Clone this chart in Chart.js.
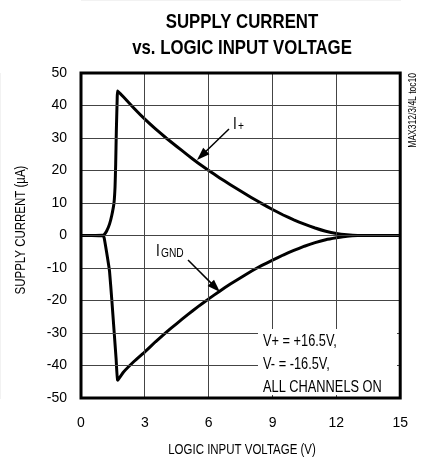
<!DOCTYPE html>
<html>
<head>
<meta charset="utf-8">
<script src="https://cdn.jsdelivr.net/npm/chart.js@4.4.1/dist/chart.umd.min.js"></script>
<style>
  body { margin: 0; background: #fff; }
  #wrap { width: 425px; height: 466px; }
</style>
</head>
<body>
<div id="wrap"><canvas id="myChart" width="425" height="466"></canvas></div>
<script>
const FONT = "'Liberation Sans', Arial, sans-serif";

// I+ curve (uA) vs logic input voltage (V)
const plusVolts = [0, 0.5, 1.0, 1.08, 1.2, 1.34, 1.45, 1.55, 1.6, 1.63, 1.66, 1.7, 1.72,
  2.0, 2.5, 3, 3.5, 4, 4.5, 5, 5.5, 6, 6.5, 7, 7.5, 8, 8.5, 9, 9.5, 10, 10.5, 11, 11.5, 12, 12.5, 13, 14, 15];
const plusCurrent = [0, 0, 0.05, 0.2, 1.3, 3.5, 6.3, 10, 15, 22, 32, 42, 44.5,
  42.6, 39.1, 35.8, 32.8, 30.0, 27.4, 24.8, 22.3, 20.0, 17.8, 15.7, 13.7, 11.7, 9.8, 8.0, 6.3, 4.8, 3.5, 2.3, 1.3, 0.6, 0.2, 0, 0, 0];

// IGND curve
const gndVolts = [0, 0.5, 1.0, 1.08, 1.2, 1.34, 1.45, 1.55, 1.65, 1.72,
  2.0, 2.5, 3, 3.5, 4, 4.5, 5, 5.5, 6, 6.5, 7, 7.5, 8, 8.5, 9, 9.5, 10, 10.5, 11, 11.5, 12, 12.5, 13, 14, 15];
const gndCurrent = [0, 0, -0.1, -0.5, -5, -11, -20, -29, -38, -44.5,
  -42.0, -38.7, -35.8, -32.7, -29.8, -27.1, -24.4, -21.9, -19.5, -17.2, -15.0, -13.0, -11.0, -9.2, -7.6, -6.0, -4.6, -3.3, -2.2, -1.3, -0.7, -0.2, 0, 0, 0];

const xTicks = [0, 3, 6, 9, 12, 15];
const yTicks = [-50, -40, -30, -20, -10, 0, 10, 20, 30, 40, 50];
const titleLines = ['SUPPLY CURRENT', 'vs. LOGIC INPUT VOLTAGE'];
const noteLines = ['V+ = +16.5V,', 'V- = -16.5V,', 'ALL CHANNELS ON'];

const toPoints = (xs, ys) => xs.map((x, i) => ({ x: x, y: ys[i] }));

// condensed look via fillText's maxWidth
function narrowText(ctx, text, x, y, squeeze, align) {
  ctx.textAlign = align || 'left';
  const w = ctx.measureText(text).width * squeeze;
  ctx.fillText(text, x, y, w);
}

function arrow(ctx, x1, y1, x2, y2) {
  const a = Math.atan2(y2 - y1, x2 - x1);
  const len = 13, half = 4.5;
  ctx.beginPath();
  ctx.moveTo(x1, y1);
  ctx.lineTo(x2 - Math.cos(a) * len * 0.8, y2 - Math.sin(a) * len * 0.8);
  ctx.lineWidth = 1.5;
  ctx.stroke();
  ctx.beginPath();
  ctx.moveTo(x2, y2);
  ctx.lineTo(x2 - Math.cos(a) * len - Math.sin(a) * half, y2 - Math.sin(a) * len + Math.cos(a) * half);
  ctx.lineTo(x2 - Math.cos(a) * len + Math.sin(a) * half, y2 - Math.sin(a) * len - Math.cos(a) * half);
  ctx.closePath();
  ctx.fill();
}

// grid is drawn above the curves (z: 1), so the note box and frame go on last
const decor = {
  id: 'decor',
  afterDraw(chart) {
    const ctx = chart.ctx;
    const a = chart.chartArea;
    ctx.save();
    ctx.fillStyle = '#fff';
    ctx.fillRect(258, 329, 139, 66);
    ctx.fillStyle = '#000';
    ctx.textBaseline = 'alphabetic';
    ctx.font = '16px ' + FONT;
    noteLines.forEach((t, i) => narrowText(ctx, t, 263, 346 + i * 23, 0.8));

    ctx.strokeStyle = '#000';
    ctx.lineWidth = 3;
    ctx.strokeRect(a.left, a.top, a.right - a.left, a.bottom - a.top);

    ctx.font = 'bold 21px ' + FONT;
    narrowText(ctx, titleLines[0], 242, 28, 0.8, 'center');
    narrowText(ctx, titleLines[1], 242, 54, 0.8, 'center');

    ctx.font = '14px ' + FONT;
    narrowText(ctx, 'LOGIC INPUT VOLTAGE (V)', 242, 454, 0.82, 'center');

    ctx.save();
    ctx.translate(25, 230);
    ctx.rotate(-Math.PI / 2);
    narrowText(ctx, 'SUPPLY CURRENT (\u00b5A)', 0, 0, 0.82, 'center');
    ctx.restore();

    ctx.save();
    ctx.translate(416, 73);
    ctx.rotate(-Math.PI / 2);
    ctx.font = '10px ' + FONT;
    narrowText(ctx, 'MAX312/3/4L toc10', 0, 0, 0.85, 'right');
    ctx.restore();

    // curve labels
    ctx.font = '16px ' + FONT;
    narrowText(ctx, 'I', 233, 129, 0.85);
    ctx.font = '12px ' + FONT;
    narrowText(ctx, '+', 238, 130, 0.85);
    ctx.font = '16px ' + FONT;
    narrowText(ctx, 'I', 156, 256, 0.85);
    ctx.font = '12px ' + FONT;
    narrowText(ctx, 'GND', 161, 257, 0.85);

    arrow(ctx, 229, 129, 197, 160);
    arrow(ctx, 188, 260, 220, 292);
    ctx.restore();
  }
};

const ctx = document.getElementById('myChart').getContext('2d');
new Chart(ctx, {
  type: 'line',
  data: {
    datasets: [
      {
        label: 'I+',
        data: toPoints(plusVolts, plusCurrent),
        borderColor: '#000',
        borderWidth: 3,
        pointRadius: 0,
        tension: 0.1,
        fill: false
      },
      {
        label: 'IGND',
        data: toPoints(gndVolts, gndCurrent),
        borderColor: '#000',
        borderWidth: 3,
        pointRadius: 0,
        tension: 0.1,
        fill: false
      }
    ]
  },
  options: {
    responsive: false,
    animation: false,
    layout: { padding: { left: 0, right: 19, top: 73, bottom: 0 } },
    plugins: {
      legend: { display: false },
      tooltip: { enabled: false }
    },
    scales: {
      x: {
        type: 'linear',
        min: 0,
        max: 15,
        afterFit: (s) => { s.height = 68; },
        afterBuildTicks: (s) => { s.ticks = xTicks.map(v => ({ value: v })); },
        grid: { color: '#444', lineWidth: 1, drawTicks: false, z: 1 },
        ticks: { color: '#000', padding: 17, font: { family: FONT, size: 14 } }
      },
      y: {
        type: 'linear',
        min: -50,
        max: 50,
        afterFit: (s) => { s.width = 81; },
        afterBuildTicks: (s) => { s.ticks = yTicks.map(v => ({ value: v })); },
        grid: { color: '#444', lineWidth: 1, drawTicks: false, z: 1 },
        ticks: { color: '#000', padding: 14, font: { family: FONT, size: 14 } }
      }
    }
  },
  plugins: [decor]
});
</script>
</body>
</html>
